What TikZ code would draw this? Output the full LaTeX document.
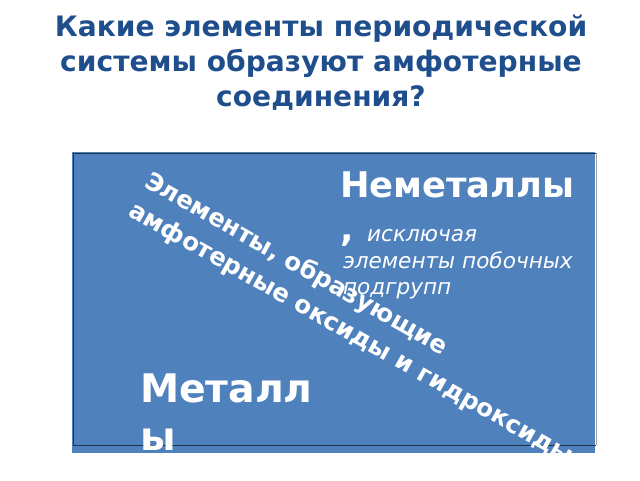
\documentclass[tikz,border=0pt]{standalone}
\usepackage{fontspec}
\setmainfont{DejaVu Sans}
\usepackage{xcolor}
\usepackage{tikz}
\definecolor{scheme}{HTML}{4F81BD}
\definecolor{heading}{RGB}{31,78,140}
\definecolor{frame}{RGB}{35,50,75}
\definecolor{shade}{RGB}{160,160,160}

\begin{document}
\begin{tikzpicture}[x=0.75pt,y=-0.75pt, every node/.style={inner sep=0pt,outer sep=0pt},
	headline/.style={anchor=base,text=heading,font=\fontsize{21.1}{24}\bfseries},
	bigword/.style={anchor=base west,text=white,font=\fontsize{26.5}{30}\bfseries},
	smallword/.style={anchor=base west,text=white,font=\fontsize{16.2}{19}\itshape},
	slantword/.style={anchor=base west,text=white,rotate=-29.5,font=\fontsize{18.4}{22}\bfseries}]
					\useasboundingbox (0,0) rectangle (640,480);
					\coordinate (f1) at (72,152);
					\coordinate (f2) at (595,453);
					\coordinate (o1) at (73,153);
					\coordinate (o2) at (596,153);
					\coordinate (o3) at (596,445);
					\coordinate (o4) at (73,445);
					
					\fill[color=scheme] (f1) rectangle (f2);
					\draw[color=shade,line width=0.75pt] (o2) to (o3);
					\draw[color=frame,line width=0.75pt] (o2) to (o1) to (o4) to (o3);
					
					\node (t1) at (321,36) [headline] {Какие элементы периодической};
					\node (t2) at (321,71) [headline] {системы образуют амфотерные};
					\node (t3) at (321,106) [headline] {соединения?};
					
					\node (d1) at (143,186) [slantword] {Элементы, образующие};
					\node (d2) at (127,215) [slantword] {амфотерные оксиды и гидроксиды};
					
					\node (n1) at (340,197) [bigword] {Неметаллы};
					\node (n2) at (340,241) [bigword] {,\normalfont\fontsize{16.2}{19}\itshape\ \ исключая};
					\node (n3) at (343,268) [smallword] {элементы побочных};
					\node (n4) at (343,294) [smallword] {подгрупп};
					
					\node (m1) at (140,402) [bigword,font=\fontsize{29.5}{36}\bfseries] {Металл};
					\node (m2) at (140,450) [bigword,font=\fontsize{29.5}{36}\bfseries] {ы};
					
				\end{tikzpicture}
\end{document}
